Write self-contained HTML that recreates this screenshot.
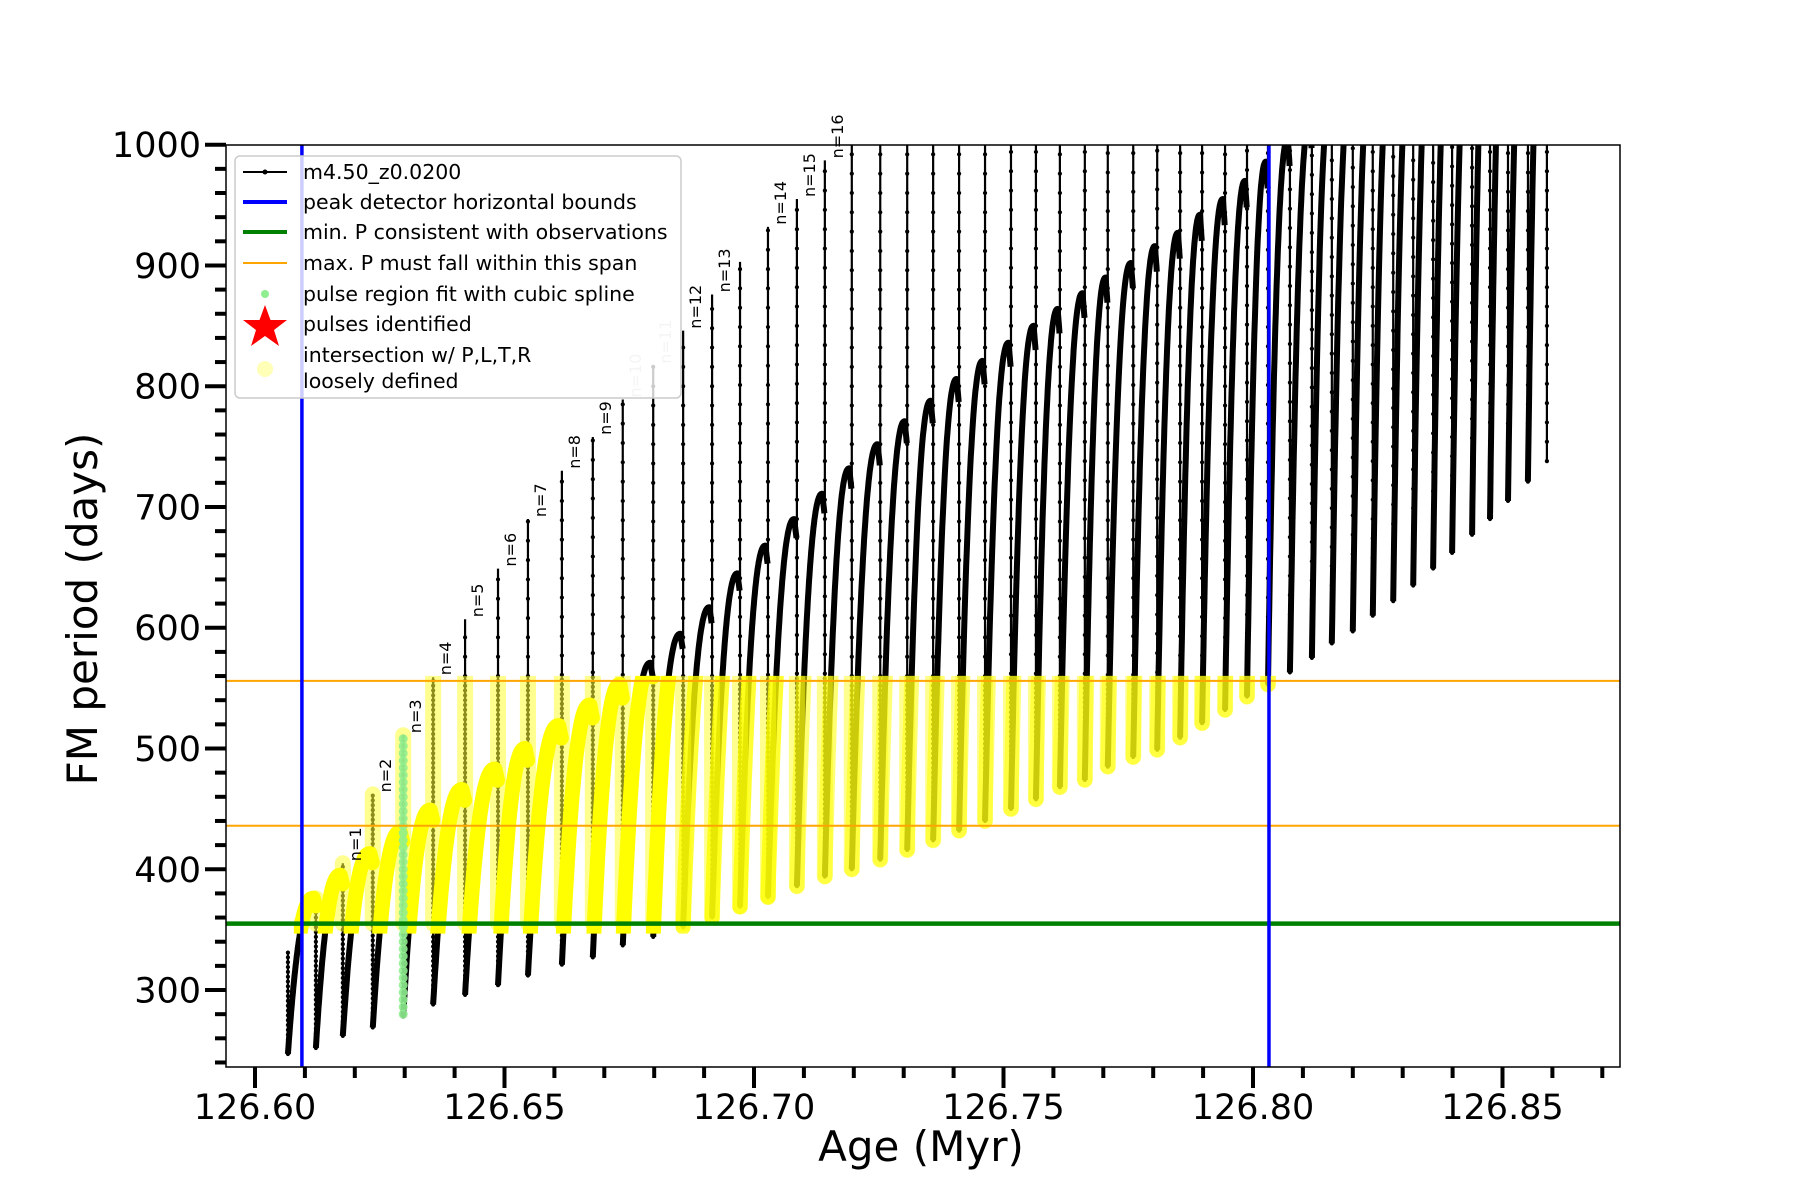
<!DOCTYPE html>
<html><head><meta charset="utf-8"><style>
html,body{margin:0;padding:0;background:#fff;}
svg{display:block;font-family:"DejaVu Sans","Liberation Sans",sans-serif;}
</style></head><body>
<svg id="chart" width="1800" height="1200" viewBox="0 0 1800 1200" xmlns="http://www.w3.org/2000/svg">
<defs>
<clipPath id="plotclip"><rect x="226" y="145" width="1394" height="922"/></clipPath>
<clipPath id="yelclip"><rect id="yelrect" x="0" y="0" width="0" height="0"/></clipPath>
</defs>
<rect x="0" y="0" width="1800" height="1200" fill="#fff"/>
<g id="data" clip-path="url(#plotclip)"></g>
<g id="labels"></g>
<rect x="226" y="145" width="1394" height="922" fill="none" stroke="#000" stroke-width="1.5"/>
<g id="axes"></g>
<text x="921" y="1161" font-size="42" text-anchor="middle">Age (Myr)</text>
<text transform="translate(97,609) rotate(-90)" font-size="42" text-anchor="middle">FM period (days)</text>
<g>
<rect x="235" y="156" width="446" height="242" rx="5" fill="#fff" fill-opacity="0.8" stroke="#ccc" stroke-width="1.5"/>
<g><line x1="243" y1="172" x2="287" y2="172" stroke="#000" stroke-width="2"/><circle cx="265" cy="172" r="2.5"/><text x="303" y="179" font-size="20.5">m4.50_z0.0200</text></g>
<g><line x1="243" y1="202" x2="287" y2="202" stroke="#0000ff" stroke-width="4"/><text x="303" y="209" font-size="20.5">peak detector horizontal bounds</text></g>
<g><line x1="243" y1="232" x2="287" y2="232" stroke="#008000" stroke-width="4"/><text x="303" y="239" font-size="20.5">min. P consistent with observations</text></g>
<g><line x1="243" y1="263" x2="287" y2="263" stroke="#ffa500" stroke-width="2"/><text x="303" y="270" font-size="20.5">max. P must fall within this span</text></g>
<g><circle cx="265" cy="294" r="4" fill="#90ee90"/><text x="303" y="301" font-size="20.5">pulse region fit with cubic spline</text></g>
<g><polygon points="265,305 270.5,320 287,320 274,330 279,346 265,336 251,346 256,330 243,320 259.5,320" fill="#ff0000"/><text x="303" y="331" font-size="20.5">pulses identified</text></g>
<g><circle cx="265" cy="369" r="8" fill="#ffff99" fill-opacity="0.7"/><text x="303" y="362" font-size="20.5">intersection w/ P,L,T,R</text><text x="303" y="388" font-size="20.5">loosely defined</text></g>
</g>
</svg>
<script>
// ---- data ----
const spikeAges = [126.6066,126.6122,126.6176,126.6236,126.6297,126.6357,126.6421,126.6487,126.6547,126.6615,126.6677,126.6737,126.6798,126.6858,126.6916,126.6972,126.7028,126.7086,126.7142,126.7196,126.7253,126.7307,126.7359,126.7411,126.7463,126.7515,126.7565,126.7613,126.7663,126.7709,126.7760,126.7808,126.7854,126.7898,126.7944,126.7988,126.8030,126.8074,126.8118,126.8158,126.8200,126.8240,126.8281,126.8321,126.8361,126.8399,126.8439,126.8475,126.8511,126.8551,126.8589];
const spikeMins = [247,252,262,269,278,288,296,304,312,321,327,337,344,352,360,369,377,386,394,400,408,416,424,432,440,450,458,468,474,485,493,499,509,521,532,543,553,563,575,587,597,610,622,635,649,662,677,690,705,721,738];
const spikeTops = [331,0,405,462,511,559,607,649,690,730,758,789,817,846,876,903,932,955,987,1040,1040,1040,1040,1040,1040,1040,1040,1040,1040,1040,1040,1040,1040,1040,1040,1040,1040,1040,1040,1040,1040,1040,1040,1040,1040,1040,1040,1040,1040,1040,1040];
const arcPeaks = [376,395,413,431,449,466,483,500,519,536,553,571,595,617,645,668,690,711,732,752,771,788,806,821,836,850,864,877,890,902,916,927,942,955,970,986,1005,1020,1035,1050,1065,1080,1095,1110,1125,1140,1155,1170,1185,1200];
const pulseLabels = ["","","n=1","n=2","n=3","n=4","n=5","n=6","n=7","n=8","n=9","n=10","n=11","n=12","n=13","","n=14","n=15","n=16"];
const fadedLabels = ["n=10","n=11"];
const splineSpikeIndex = 4;
const splineRange = [280, 510];
const blueBounds = [126.6094, 126.8032];
const minP = 355;
const maxPSpan = [436, 556];
const xTicks = [126.60,126.65,126.70,126.75,126.80,126.85];
const xTickLabels = ["126.60","126.65","126.70","126.75","126.80","126.85"];
const yTicks = [300,400,500,600,700,800,900,1000];
const yTickLabels = ["300","400","500","600","700","800","900","1000"];

// ---- axis functions ----
const X = t => 255 + (t - 126.60) * 4990;
const Y = v => 144.7 + (1000 - v) * 1.2076;
const NS = "http://www.w3.org/2000/svg";
function mk(tag, attrs, parent){ const e=document.createElementNS(NS,tag); for(const k in attrs) e.setAttribute(k,attrs[k]); parent.appendChild(e); return e; }

const data = document.getElementById('data');
const labels = document.getElementById('labels');
const axes = document.getElementById('axes');

const arcPaths = [], spikePaths = [];
for (let i=0;i<spikeAges.length;i++){
  const x = X(spikeAges[i]);
  const prevPeak = i>0 ? arcPeaks[i-1] : spikeMins[i];
  const top = spikeTops[i] > 0 ? spikeTops[i] : prevPeak;
  spikePaths.push({x:x, y0:Y(spikeMins[i]), y1:Y(Math.max(top, prevPeak*0.98)), vmin:spikeMins[i], vtop:top});
  if (i < arcPeaks.length){
    const t0 = spikeAges[i], t1 = spikeAges[i+1], mn = spikeMins[i], pk = arcPeaks[i];
    let d = '';
    for (let s=0;s<=50;s++){
      const u = s/50;
      let v;
      if (u <= 0.92) v = mn + (pk-mn)*(1-Math.pow(1-u/0.92,2.3));
      else v = pk - (u-0.92)/0.08*(pk-mn)*0.05;
      const t = t0 + (t1-t0)*u*0.985;
      d += (s?'L':'M') + X(t).toFixed(1) + ',' + Y(v).toFixed(1);
    }
    arcPaths.push({d:d, peak:pk});
  }
}

spikePaths.forEach((s,i)=>{
  const l = mk('line',{x1:s.x,y1:s.y0,x2:s.x,y2:s.y1,stroke:'#000','stroke-width':2.2},data);
  
  
  for (let v=s.vmin; v<=Math.min(s.vtop,1010); v+= (v< 560? 4 : 16)){
    mk('circle',{cx:s.x,cy:Y(v),r:2.1,fill:'#000'},data);
  }
});
arcPaths.forEach(a=>{
  const p = mk('path',{d:a.d,fill:'none',stroke:'#000','stroke-width':6,'stroke-linejoin':'round'},data);
  
  
});

// yellow intersection overlay
const yr = document.getElementById('yelrect');
yr.setAttribute('x', X(blueBounds[0])-8);
yr.setAttribute('width', X(blueBounds[1])-X(blueBounds[0])+18);
yr.setAttribute('y', Y(maxPSpan[1])-5);
yr.setAttribute('height', Y(minP)-Y(maxPSpan[1])+15);
const yelS = mk('g',{'clip-path':'url(#yelclip)',opacity:0.55},data);


spikePaths.forEach(s=>{
  const lo = Math.max(s.vmin, minP);
  if (lo > maxPSpan[1]+5) return;
  mk('line',{x1:s.x,y1:Y(lo),x2:s.x,y2:Y(Math.min(s.vtop,maxPSpan[1]+3)),stroke:'#ffff33','stroke-width':16,'stroke-linecap':'round'},yelS);
});
const yel = mk('g',{'clip-path':'url(#yelclip)'},data);


arcPaths.forEach(a=>{
  const op = a.peak < 600 ? 1 : (a.peak < 700 ? 0.8 : 0.55);
  mk('path',{d:a.d,fill:'none',stroke:'#ffff00','stroke-width':15,'stroke-linecap':'round','stroke-linejoin':'round',opacity:op},yel);
});

for (let v=splineRange[0]; v<=splineRange[1]; v+=6){
  const c = mk('circle',{cx:X(spikeAges[splineSpikeIndex]),cy:Y(v),r:4.5,fill:'#90ee90',opacity:0.9},data);
  
  
}

[maxPSpan[0],maxPSpan[1]].forEach(v=>{
  const l = mk('line',{x1:226,x2:1620,y1:Y(v),y2:Y(v),stroke:'#ffa500','stroke-width':2},data);
  
  
});
{
  const l = mk('line',{x1:226,x2:1620,y1:Y(minP),y2:Y(minP),stroke:'#008000','stroke-width':4.5},data);
  
  
}
blueBounds.forEach(t=>{
  const l = mk('line',{x1:X(t),x2:X(t),y1:145,y2:1067,stroke:'#0000ff','stroke-width':3.5},data);
  
  
});

pulseLabels.forEach((lab,i)=>{
  if(!lab) return;
  const x = X(spikeAges[i]) + 18, y = Y(Math.min(spikeTops[i],1000)) - 2;
  const t = mk('text',{transform:`translate(${x.toFixed(1)},${y.toFixed(1)}) rotate(-90)`,'font-size':16,fill: fadedLabels.includes(lab)?'#c8c8c8':'#000'},labels);
  t.textContent = lab;
  
  
});

for (let v=240; v<=1000; v+=20){
  const major = v%100===0;
  mk('line',{x1:226,x2:226-(major?21:11),y1:Y(v),y2:Y(v),stroke:'#000','stroke-width':4},axes);
}
yTicks.forEach((v,i)=>{
  const t = mk('text',{x:201,y:Y(v)+12.5,'font-size':35,'text-anchor':'end'},axes);
  t.textContent = yTickLabels[i];
  
  
});
for (let k=0; k<=27; k++){
  const t = 126.60 + k*0.01;
  const major = k%5===0;
  mk('line',{x1:X(t),x2:X(t),y1:1067,y2:1067+(major?21:11),stroke:'#000','stroke-width':4},axes);
}
xTicks.forEach((t,i)=>{
  const e = mk('text',{x:X(t),y:1119,'font-size':35,'text-anchor':'middle'},axes);
  e.textContent = xTickLabels[i];
  
  
});
</script>
</body></html>
